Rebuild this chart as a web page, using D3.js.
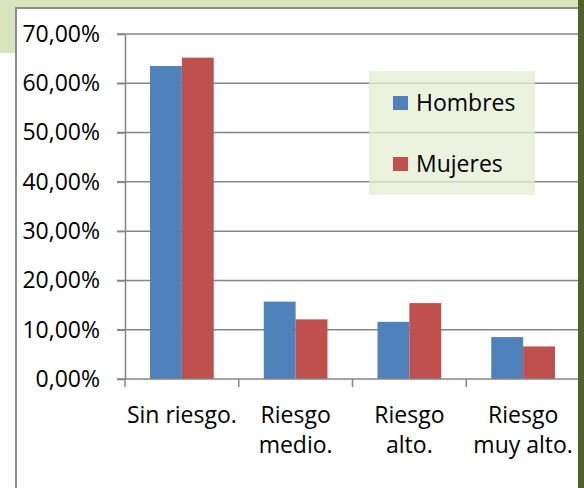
<!DOCTYPE html>
<html>
<head>
<meta charset="utf-8">
<script src="https://cdn.jsdelivr.net/npm/d3@7"></script>
<style>
  body { margin: 0; background: #fff; }
  svg text { font-family: "Open Sans", "Noto Sans", sans-serif; fill: #000; }
  .axis path, .axis line { stroke: #868686; stroke-width: 1.5; }
</style>
</head>
<body>
<div id="chart"></div>
<script>
var categories = [["Sin riesgo."], ["Riesgo", "medio."], ["Riesgo", "alto."], ["Riesgo", "muy alto."]];
var seriesNames = ["Hombres", "Mujeres"];
var hombres = [63.5, 15.7, 11.6, 8.5];
var mujeres = [65.2, 12.1, 15.4, 6.6];
var yTicks = [0, 10, 20, 30, 40, 50, 60, 70];

var W = 584, H = 488;
var colors = ["#4f81bd", "#c0504d"];

var svg = d3.select("#chart").append("svg")
    .attr("width", W)
    .attr("height", H);

// frame: green header, white chart area, dark green side
svg.append("rect").attr("x", 0).attr("y", 0).attr("width", W).attr("height", 53).attr("fill", "#d7e4bd");
svg.append("rect").attr("x", 16).attr("y", 8).attr("width", 600).attr("height", 500)
    .attr("fill", "#fff").attr("stroke", "#8c8c8c").attr("stroke-width", 2);

var x0 = d3.scaleBand()
    .domain(d3.range(categories.length))
    .range([125, 580])
    .paddingInner(0.44)
    .paddingOuter(0.22);

var x1 = d3.scaleBand()
    .domain(d3.range(seriesNames.length))
    .range([0, x0.bandwidth()]);

var y = d3.scaleLinear()
    .domain([0, 70])
    .range([379, 34]);

// gridlines
svg.append("g")
  .selectAll("line")
  .data(yTicks.filter(function(d) { return d > 0; }))
  .enter().append("line")
    .attr("x1", 117).attr("x2", 580)
    .attr("y1", function(d) { return y(d); })
    .attr("y2", function(d) { return y(d); })
    .attr("stroke", "#868686").attr("stroke-width", 1.5);

// legend box (semi transparent over the grid)
var legend = svg.append("g");
legend.append("rect")
    .attr("x", 369).attr("y", 71).attr("width", 166).attr("height", 124)
    .attr("fill", "#e4edd3").attr("fill-opacity", 0.75);

var data = [hombres, mujeres];

svg.append("g")
  .selectAll("g")
  .data(data)
  .enter().append("g")
    .attr("fill", function(d, i) { return colors[i]; })
  .each(function(vals, s) {
    d3.select(this).selectAll("rect")
      .data(vals)
      .enter().append("rect")
        .attr("x", function(d, i) { return x0(i) + x1(s); })
        .attr("width", x1.bandwidth())
        .attr("y", function(d) { return y(d); })
        .attr("height", function(d) { return y(0) - y(d); });
  });

// y axis
var yAxis = svg.append("g")
    .attr("class", "axis")
    .attr("transform", "translate(125,0)")
    .call(d3.axisLeft(y).tickValues(yTicks).tickSize(8).tickSizeOuter(0)
      .tickFormat(function(d) { return d.toFixed(2).replace(".", ",") + "%"; }));
yAxis.selectAll("text")
    .attr("x", -25)
    .style("font-size", "23px");

// x axis
var xAxis = svg.append("g")
    .attr("class", "axis")
    .attr("transform", "translate(0,379)");
xAxis.append("line")
    .attr("x1", 117).attr("x2", 580).attr("y1", 0).attr("y2", 0);
xAxis.selectAll(".tk")
  .data(d3.range(categories.length + 1))
  .enter().append("line")
    .attr("class", "tk")
    .attr("x1", function(d) { return 125 + d * (580 - 125) / categories.length; })
    .attr("x2", function(d) { return 125 + d * (580 - 125) / categories.length; })
    .attr("y1", 0).attr("y2", 8);

xAxis.selectAll(".lbl")
  .data(categories)
  .enter().append("text")
    .attr("class", "lbl")
    .attr("text-anchor", "middle")
    .style("font-size", "23px")
  .each(function(lines, i) {
    var t = d3.select(this);
    lines.forEach(function(line, j) {
      t.append("tspan")
        .attr("x", x0(i) + x0.bandwidth() / 2)
        .attr("y", 44 + j * 30)
        .text(line);
    });
  });

// legend entries
seriesNames.forEach(function(name, i) {
  legend.append("rect")
    .attr("x", 393).attr("y", 96 + i * 61)
    .attr("width", 15).attr("height", 14)
    .attr("fill", colors[i]);
  legend.append("text")
    .attr("x", 416).attr("y", 103 + i * 61)
    .attr("dy", "0.35em")
    .style("font-size", "23px")
    .text(name);
});

svg.append("rect").attr("x", 578).attr("y", 0).attr("width", 6).attr("height", H).attr("fill", "#4f6228");
</script>
</body>
</html>
